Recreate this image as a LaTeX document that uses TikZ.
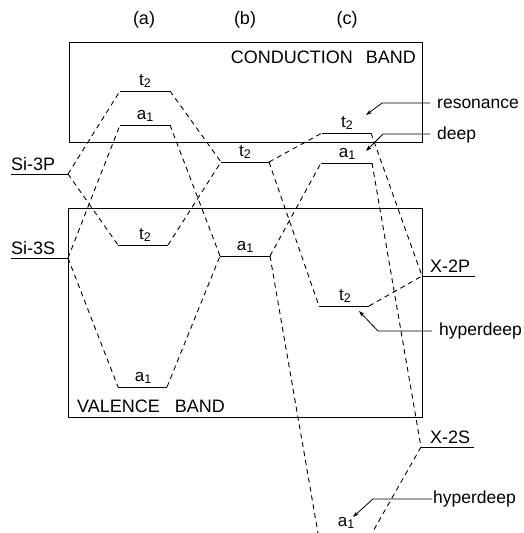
\documentclass[tikz,border=0pt]{standalone}
\usepackage{fontspec}
\setmainfont{Liberation Sans}
\usetikzlibrary{arrows.meta}
\newcommand\lsub[1]{\raisebox{-0.28ex}{\fontsize{12.5}{12.5}\selectfont #1}}
\newcommand\tlab{t\lsub{2}}
\newcommand\alab{a\lsub{1}}
\begin{document}
\begin{tikzpicture}[x=1pt,y=-1pt,
  lvl/.style={line width=0.9pt},
  conn/.style={line width=0.9pt, dash pattern=on 5pt off 4pt},
  bandbox/.style={line width=0.9pt},
  ann/.style={line width=0.8pt, -{Stealth[length=6pt,width=4pt]}},
  capt/.style={font=\fontsize{18}{18}\selectfont, inner sep=0pt},
  sym/.style={font=\fontsize{17}{17}\selectfont, inner sep=0pt, anchor=base},
  word/.style={font=\fontsize{17.5}{17.5}\selectfont, inner sep=0pt, inner xsep=7pt, anchor=base west}]
\useasboundingbox (0,0) rectangle (523,533);

% column headings
\node[capt] (ha) at (144,20) {(a)};
\node[capt] (hb) at (245,20) {(b)};
\node[capt] (hc) at (347,20) {(c)};

% band boxes
\draw[bandbox] (69,42) rectangle (422,142);
\node[capt, anchor=base east] (cb) at (416,63) {CONDUCTION\hspace{13pt}BAND};
\draw[bandbox] (68,208) rectangle (422,417);
\node[capt, anchor=base west] (vb) at (77,412) {VALENCE\hspace{15pt}BAND};

% atomic levels
\coordinate (SiPL) at (11,174); \coordinate (SiPR) at (68,174);
\coordinate (SiSL) at (11,258); \coordinate (SiSR) at (68,258);
\coordinate (XPL) at (422,276); \coordinate (XPR) at (475,276);
\coordinate (XSL) at (421,447); \coordinate (XSR) at (474,447);
\draw[lvl] (SiPL) -- (SiPR); \node[capt, anchor=base west] (siP) at (11,170) {Si-3P};
\draw[lvl] (SiSL) -- (SiSR); \node[capt, anchor=base west] (siS) at (11,254) {Si-3S};
\draw[lvl] (XPL) -- (XPR); \node[capt, anchor=base west] (xP) at (430,272) {X-2P};
\draw[lvl] (XSL) -- (XSR); \node[capt, anchor=base west] (xS) at (430,443) {X-2S};

% column (a)
\coordinate (aT2L) at (120,91);  \coordinate (aT2R) at (170,91);
\coordinate (aA1L) at (120,125); \coordinate (aA1R) at (170,125);
\coordinate (aT2bL) at (118,245); \coordinate (aT2bR) at (168,245);
\coordinate (aA1bL) at (118,387); \coordinate (aA1bR) at (167,387);
\draw[lvl] (aT2L) -- (aT2R);   \node[sym] (laT2) at (145,85) {\tlab};
\draw[lvl] (aA1L) -- (aA1R);   \node[sym] (laA1) at (145,119) {\alab};
\draw[lvl] (aT2bL) -- (aT2bR); \node[sym] (laT2b) at (145,239) {\tlab};
\draw[lvl] (aA1bL) -- (aA1bR); \node[sym] (laA1b) at (143,381) {\alab};

% column (b)
\coordinate (bT2L) at (221,162); \coordinate (bT2R) at (269,162);
\coordinate (bA1L) at (220,256); \coordinate (bA1R) at (270,256);
\draw[lvl] (bT2L) -- (bT2R); \node[sym] (lbT2) at (245,156) {\tlab};
\draw[lvl] (bA1L) -- (bA1R); \node[sym] (lbA1) at (245,250) {\alab};

% column (c)
\coordinate (cT2L) at (322,133); \coordinate (cT2R) at (371,133);
\coordinate (cA1L) at (321,163); \coordinate (cA1R) at (372,163);
\coordinate (cT2bL) at (319,306); \coordinate (cT2bR) at (369,306);
\coordinate (cA1bL) at (318,533); \coordinate (cA1bR) at (372,533);
\draw[lvl] (cT2L) -- (cT2R);   \node[sym] (lcT2) at (347,127) {\tlab};
\draw[lvl] (cA1L) -- (cA1R);   \node[sym] (lcA1) at (347,157) {\alab};
\draw[lvl] (cT2bL) -- (cT2bR); \node[sym] (lcT2b) at (345,300) {\tlab};
\node[sym] (lcA1b) at (346,526) {\alab};

% dashed correlations: Si -> (a)
\draw[conn] (SiPR) -- (aT2L);
\draw[conn] (SiPR) -- (aT2bL);
\draw[conn] (SiSR) -- (aA1L);
\draw[conn] (SiSR) -- (aA1bL);
% (a) -> (b)
\draw[conn] (aT2R) -- (bT2L);
\draw[conn] (aT2bR) -- (bT2L);
\draw[conn] (aA1R) -- (bA1L);
\draw[conn] (aA1bR) -- (bA1L);
% (b) -> (c)
\draw[conn] (bT2R) -- (cT2L);
\draw[conn] (bT2R) -- (cT2bL);
\draw[conn] (bA1R) -- (cA1L);
\draw[conn] (bA1R) -- (cA1bL);
% (c) -> X
\draw[conn] (cT2R) -- (XPL);
\draw[conn] (cT2bR) -- (XPL);
\draw[conn] (cA1R) -- (XSL);
\draw[conn] (XSL) -- (cA1bR);

% annotations
\node[word] (res) at (430,108) {resonance};
\coordinate (resK) at (382,103); \coordinate (resT) at (366,115);
\draw[ann] (430,103) -- (resK) -- (resT);
\node[word] (dp) at (430,139) {deep};
\coordinate (dpK) at (383,134); \coordinate (dpT) at (366,151);
\draw[ann] (430,134) -- (dpK) -- (dpT);
\node[word] (hd1) at (432,335) {hyperdeep};
\coordinate (hd1K) at (378,331); \coordinate (hd1T) at (359,311);
\draw[ann] (432,331) -- (hd1K) -- (hd1T);
\node[word] (hd2) at (426,503) {hyperdeep};
\coordinate (hd2K) at (373,499); \coordinate (hd2T) at (353,517);
\draw[ann] (432,499) -- (hd2K) -- (hd2T);
\end{tikzpicture}
\end{document}
